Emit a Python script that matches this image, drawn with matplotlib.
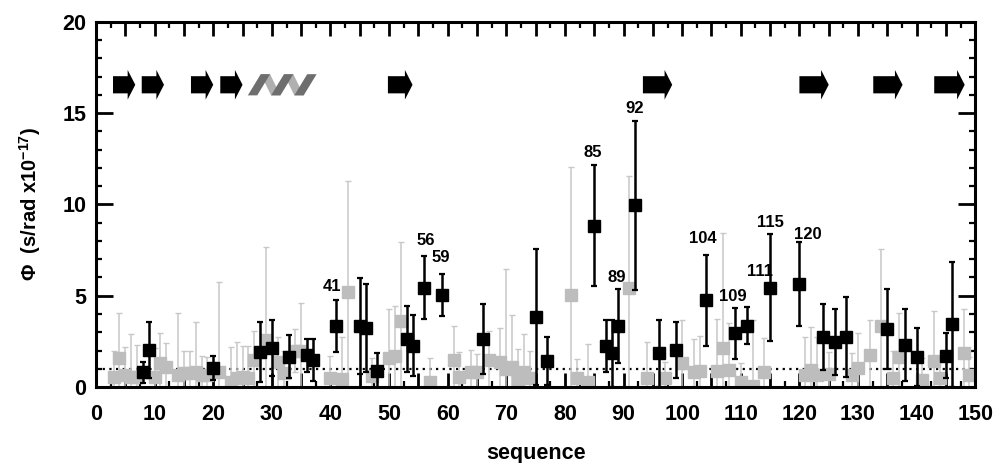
import numpy as np
import matplotlib
matplotlib.use("Agg")
import matplotlib.pyplot as plt
from matplotlib.patches import FancyArrow, Polygon
from matplotlib.ticker import MultipleLocator, FuncFormatter

plt.rcParams["font.family"] = ["Liberation Sans", "DejaVu Sans"]
plt.rcParams["font.weight"] = "bold"
plt.rcParams["mathtext.fontset"] = "custom"
plt.rcParams["mathtext.rm"] = "Liberation Sans:bold"
plt.rcParams["mathtext.bf"] = "Liberation Sans:bold"
plt.rcParams["mathtext.default"] = "bf"

# ---- residues with significant values (black) ----
black_seq = [8, 9, 20, 28, 30, 33, 36, 37, 41, 45, 46, 48, 53, 54, 56, 59, 66,
             75, 77, 85, 87, 88, 89, 92, 96, 99, 104, 109, 111, 115, 120, 124,
             126, 128, 135, 138, 140, 145, 146]
black_phi = [0.80, 2.03, 1.02, 1.93, 2.15, 1.66, 1.75, 1.48, 3.34, 3.34, 3.25,
             0.90, 2.63, 2.26, 5.44, 5.04, 2.63, 3.85, 1.44, 8.84, 2.25, 1.84,
             3.34, 9.96, 1.84, 2.03, 4.75, 2.94, 3.36, 5.44, 5.63, 2.76, 2.45,
             2.76, 3.16, 2.30, 1.66, 1.72, 3.43]
black_err = [0.57, 1.53, 0.66, 1.63, 1.52, 1.17, 0.90, 1.17, 1.41, 2.62, 2.41,
             0.96, 1.81, 1.67, 1.72, 1.13, 1.90, 3.71, 1.30, 3.32, 1.40, 1.81,
             2.03, 4.62, 1.81, 1.53, 2.50, 1.39, 1.00, 2.94, 2.30, 1.80, 1.80,
             2.19, 2.19, 1.97, 1.59, 1.22, 3.42]

# ---- other residues (grey) ----
grey_seq = [3, 4, 5, 6, 7, 10, 11, 12, 14, 15, 16, 17, 18, 19, 21, 23, 24, 25,
            26, 27, 29, 31, 32, 34, 35, 40, 42, 43, 47, 50, 51, 52, 57, 61, 62,
            64, 65, 67, 69, 70, 71, 72, 73, 74, 81, 82, 84, 91, 94, 97, 100,
            102, 103, 106, 107, 108, 110, 112, 114, 121, 122, 123, 125, 129,
            130, 132, 134, 136, 137, 141, 143, 144, 148, 149]
grey_phi = [0.57, 1.57, 0.66, 0.57, 0.57, 0.57, 1.30, 1.10, 0.66, 0.75, 0.75,
            0.84, 0.66, 0.66, 0.80, 0.30, 0.48, 0.57, 0.50, 1.48, 2.57, 1.39,
            0.75, 2.00, 2.00, 0.50, 0.44, 5.22, 0.60, 1.61, 1.70, 3.60, 0.30,
            1.48, 0.55, 0.80, 0.80, 1.46, 1.35, 1.00, 1.10, 0.44, 0.80, 0.50,
            5.04, 0.50, 0.30, 5.44, 0.50, 0.50, 1.30, 0.80, 0.90, 0.90, 2.12,
            0.93, 0.30, 0.07, 0.84, 0.66, 0.93, 0.66, 0.70, 0.66, 1.02, 1.75,
            3.34, 0.48, 1.66, 0.39, 1.44, 0.48, 1.84, 0.66]
grey_err = [1.40, 2.47, 1.54, 2.33, 1.73, 1.57, 1.66, 1.33, 3.41, 1.22, 1.22,
            2.74, 1.04, 1.00, 4.95, 1.90, 2.00, 1.68, 1.75, 1.60, 5.12, 1.37,
            1.20, 1.18, 2.58, 1.22, 2.30, 6.08, 1.00, 2.65, 2.74, 4.36, 1.30,
            1.86, 1.38, 1.24, 1.00, 1.61, 1.90, 5.45, 2.85, 1.63, 2.10, 1.50,
            7.03, 1.03, 2.04, 6.12, 1.97, 0.89, 2.37, 1.81, 1.89, 2.80, 6.34,
            2.56, 1.03, 3.60, 1.83, 2.06, 2.34, 2.10, 1.20, 1.20, 1.92, 1.92,
            4.20, 1.50, 2.38, 1.20, 2.72, 1.00, 2.42, 1.00]

# labelled residues and where their labels sit (text x, text y)
label_seq = [41, 56, 59, 85, 89, 92, 104, 109, 111, 115, 120]
label_x = [40.3, 56.2, 58.9, 84.8, 88.8, 91.9, 103.5, 108.7, 113.3, 115.0, 121.5]
label_y = [5.5, 8.05, 7.07, 12.84, 6.01, 15.27, 8.15, 4.95, 6.3, 8.99, 8.38]

# secondary structure (start, end) in sequence numbers
strands = [(2.9, 6.7), (7.8, 11.6), (16.2, 20.0), (21.2, 25.0), (49.8, 54.0),
           (93.3, 98.3), (120.0, 125.0), (132.6, 137.6), (143.0, 148.2)]
helix = (25.9, 37.8)
ss_level = 16.55

fig = plt.figure(figsize=(9.98, 4.63), dpi=100)
ax = fig.add_axes([0.0962, 0.164, 0.881, 0.789])

ax.errorbar(grey_seq, grey_phi, yerr=grey_err, fmt="s", ms=8.5,
            mfc="#bdbdbd", mec="#bdbdbd", ecolor="#c8c8c8", elinewidth=1.1,
            capsize=2.5, capthick=1.0, zorder=2)
ax.errorbar(black_seq, black_phi, yerr=black_err, fmt="s", ms=8.5,
            mfc="black", mec="black", ecolor="black", elinewidth=1.8,
            capsize=2.5, capthick=1.6, zorder=3)

for s, tx, ty in zip(label_seq, label_x, label_y):
    ax.text(tx, ty, str(s), ha="center", va="center", fontsize=12,
            fontweight="bold", zorder=4)

ax.axhline(1.0, color="black", lw=1.6, ls=(0, (1, 2)), zorder=1)

# strands as arrows
for a, b in strands:
    ax.add_patch(FancyArrow(a, ss_level, b - a, 0, width=0.94, head_width=1.62,
                            head_length=1.3, length_includes_head=True,
                            color="black", lw=0, zorder=3))

# helix as a zig-zag ribbon
h0, h1 = helix
turn = (h1 - h0) / 3
lo, hi = ss_level - 0.58, ss_level + 0.58
for i in range(3):
    x0 = h0 + i * turn
    if i < 2:
        ax.add_patch(Polygon([(x0 + 2.2, hi), (x0 + 3.8, hi),
                              (x0 + turn + 1.6, lo), (x0 + turn, lo)],
                             closed=True, color="#b0b0b0", lw=0, zorder=2))
    ax.add_patch(Polygon([(x0, lo), (x0 + 1.6, lo), (x0 + 3.8, hi),
                          (x0 + 2.2, hi)], closed=True, color="#6e6e6e",
                         lw=0, zorder=3))

ax.set_xlim(0, 150)
ax.set_ylim(0, 20)
ax.xaxis.set_major_locator(MultipleLocator(5))
ax.xaxis.set_minor_locator(MultipleLocator(2.5))
ax.xaxis.set_major_formatter(FuncFormatter(
    lambda v, p: f"{int(v)}" if int(round(v)) % 10 == 0 else ""))
ax.yaxis.set_major_locator(MultipleLocator(5))
ax.yaxis.set_minor_locator(MultipleLocator(1))

ax.tick_params(which="both", direction="in", top=True, right=True,
               labelsize=15.5)
ax.tick_params(axis="x", which="major", length=10, width=2, pad=12)
ax.tick_params(axis="y", which="major", length=12, width=2, pad=7)
ax.tick_params(which="minor", length=4, width=1.6)
for sp in ax.spines.values():
    sp.set_linewidth(2.2)
for t in ax.get_xticklabels() + ax.get_yticklabels():
    t.set_fontweight("bold")

ax.set_xlabel("sequence", fontsize=15.5, fontweight="bold", labelpad=13)
ax.set_ylabel(r"$\Phi$  (s/rad x10$^{-17}$)", fontsize=14.5,
              fontweight="bold", labelpad=14)

fig.savefig("out.png", dpi=100)
